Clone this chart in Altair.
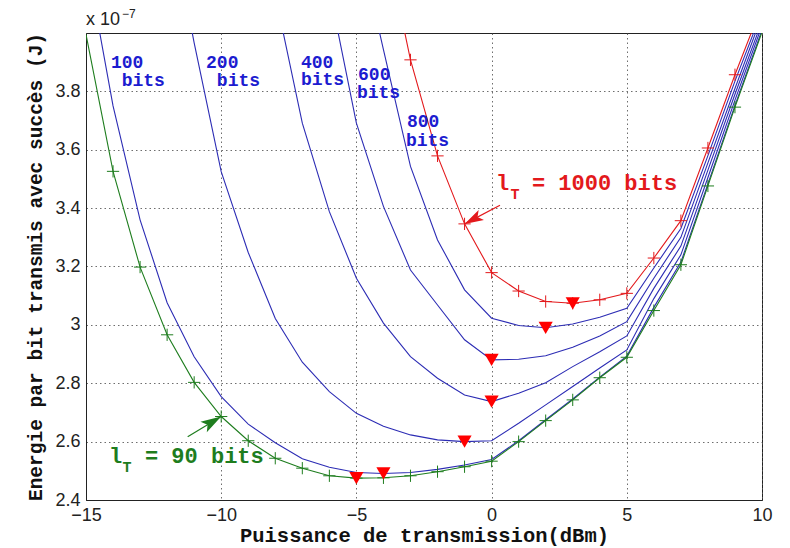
import altair as alt
import pandas as pd

# ---------------- data ----------------
x_dbm = list(range(-15, 11))

e_90 = [3.995, 3.526, 3.198, 2.966, 2.803, 2.686, 2.603, 2.543, 2.509, 2.483, 2.475, 2.476, 2.483,
        2.497, 2.514, 2.533, 2.600, 2.672, 2.743, 2.819, 2.889, 3.049, 3.206, 3.476, 3.746, 4.003]
e_100 = [4.26, 3.75, 3.36, 3.076, 2.891, 2.754, 2.660, 2.596, 2.541, 2.512, 2.494, 2.491, 2.494,
         2.505, 2.520, 2.539, 2.603, 2.675, 2.746, 2.821, 2.893, 3.060, 3.215, 3.483, 3.752, 4.010]
e_200 = [None, None, None, 4.45, 3.966, 3.525, 3.248, 3.022, 2.872, 2.771, 2.697, 2.653, 2.623,
         2.606, 2.600, 2.603, 2.663, 2.726, 2.789, 2.852, 2.914, 3.090, 3.240, 3.505, 3.770, 4.025]
e_400 = [None, None, None, None, None, None, None, 4.13, 3.691, 3.388, 3.160, 3.006, 2.891,
         2.817, 2.760, 2.737, 2.766, 2.802, 2.857, 2.908, 2.962, 3.125, 3.270, 3.530, 3.790, 4.040]
e_600 = [None, None, None, None, None, None, None, None, None, 4.15, 3.691, 3.406, 3.188,
         3.068, 2.949, 2.880, 2.882, 2.894, 2.923, 2.962, 3.011, 3.160, 3.300, 3.555, 3.810, 4.060]
e_800 = [None, None, None, None, None, None, None, None, None, None, 4.35, 3.943, 3.543,
         3.291, 3.120, 3.023, 2.998, 2.990, 3.003, 3.026, 3.057, 3.195, 3.330, 3.580, 3.835, 4.075]
e_1000 = [None, None, None, None, None, None, None, None, None, None, None, 4.35, 3.908,
          3.579, 3.346, 3.179, 3.116, 3.080, 3.074, 3.086, 3.108, 3.229, 3.357, 3.606, 3.857, 4.095]

series_names = ["100 bits", "200 bits", "400 bits", "600 bits", "800 bits", "1000 bits", "90 bits"]
series_values = [e_100, e_200, e_400, e_600, e_800, e_1000, e_90]
series_colors = ["#2c2cb4", "#2c2cb4", "#2c2cb4", "#2c2cb4", "#2c2cb4", "#e3191c", "#1e7d1e"]

plus_x_90 = list(range(-14, 10))
plus_x_1000 = list(range(-3, 10))

min_x = [-5, -4, -1, 0, 0, 2, 3]
min_e = [2.475, 2.491, 2.600, 2.737, 2.880, 2.990, 3.074]

x_ticks = [-15, -10, -5, 0, 5, 10]
y_ticks = [2.4, 2.6, 2.8, 3.0, 3.2, 3.4, 3.6, 3.8]

# annotations in monospace: text, x, y, colour, font size
ann_text = ["100", "bits", "200", "bits", "400", "bits", "600", "bits", "800", "bits",
            "l", "T", "= 1000 bits", "l", "T", "= 90 bits"]
ann_x = [-14.08, -13.68, -10.56, -10.16, -7.05, -7.05, -4.94, -4.98, -3.13, -3.17,
         0.16, 0.70, 1.49, -14.15, -13.65, -12.82]
ann_y = [3.880, 3.818, 3.880, 3.818, 3.880, 3.822, 3.839, 3.777, 3.678, 3.613,
         3.462, 3.431, 3.462, 2.527, 2.496, 2.527]
ann_color = ["#1c1cd0"] * 10 + ["#e3191c"] * 3 + ["#1e7d1e"] * 3
ann_size = [18] * 10 + [22, 15, 22, 22, 15, 22]

# exponent label (sans)
exp_text = ["x 10", "\u22127"]
exp_x = [-15.0, -13.67]
exp_y = [4.027, 4.052]
exp_size = [18, 12]

# arrows: start point, tip point, head angle, colour, head size
arrow_x = [0.31, -11.24]
arrow_y = [3.41, 2.617]
arrow_x2 = [-1, -10]
arrow_y2 = [3.346, 2.686]
arrow_angle = [242, 59]
arrow_color = ["#e3191c", "#1e7d1e"]
arrow_size = [360, 420]

# ---------------- tables ----------------
rows = []
for name, vals in zip(series_names, series_values):
    for x, v in zip(x_dbm, vals):
        if v is not None:
            rows.append({"x": x, "e": v, "serie": name})
lines_df = pd.DataFrame(rows)

plus_rows = []
for x in plus_x_90:
    plus_rows.append({"x": x, "e": e_90[x_dbm.index(x)], "serie": "90 bits"})
for x in plus_x_1000:
    plus_rows.append({"x": x, "e": e_1000[x_dbm.index(x)], "serie": "1000 bits"})
plus_df = pd.DataFrame(plus_rows)

min_df = pd.DataFrame({"x": min_x, "e": min_e})
ann_df = pd.DataFrame({"t": ann_text, "x": ann_x, "e": ann_y, "c": ann_color, "s": ann_size})
exp_df = pd.DataFrame({"t": exp_text, "x": exp_x, "e": exp_y, "s": exp_size})
arrow_df = pd.DataFrame({"x": arrow_x, "e": arrow_y, "x2": arrow_x2, "e2": arrow_y2,
                         "a": arrow_angle, "c": arrow_color, "s": arrow_size})

# ---------------- encodings ----------------
XS = alt.Scale(domain=[-15, 10], nice=False, zero=False)
YS = alt.Scale(domain=[2.4, 4.0], nice=False, zero=False)

X = alt.X("x:Q", scale=XS,
          axis=alt.Axis(values=x_ticks, title="Puissance de transmission(dBm)",
                        format="~g", labelFont="Liberation Sans", labelFontSize=18,
                        labelColor="#222", labelPadding=6, labelFlush=False,
                        titleFont="Liberation Mono", titleFontSize=20.5, titleFontWeight="bold",
                        titleColor="#111", titlePadding=1,
                        ticks=False, domainColor="#222",
                        grid=True, gridDash=[1.5, 3], gridColor="#555", gridOpacity=0.85))
Y = alt.Y("e:Q", scale=YS,
          axis=alt.Axis(values=y_ticks, title="Energie par bit transmis avec succès (J)",
                        format="~g", labelFont="Liberation Sans", labelFontSize=18,
                        labelColor="#222", labelPadding=6, labelFlush=False,
                        titleFont="Liberation Mono", titleFontSize=19.5, titleFontWeight="bold",
                        titleColor="#111", titlePadding=9,
                        ticks=False, domainColor="#222",
                        grid=True, gridDash=[1.5, 3], gridColor="#555", gridOpacity=0.85))

color_scale = alt.Scale(domain=series_names, range=series_colors)

lines = alt.Chart(lines_df).mark_line(clip=True, strokeWidth=1.1).encode(
    x=X, y=Y,
    color=alt.Color("serie:N", scale=color_scale, legend=None),
    detail="serie:N",
    order="x:Q",
)

plus_path = "M-1,0L1,0M0,-1L0,1"
plus = alt.Chart(plus_df).mark_point(shape=plus_path, size=150, filled=False,
                                     strokeWidth=1, opacity=1, clip=True).encode(
    x=X, y=Y,
    color=alt.Color("serie:N", scale=color_scale, legend=None),
)

mins = alt.Chart(min_df).mark_point(shape="triangle-down", filled=True, size=200,
                                    color="#ff0000", opacity=1).encode(x=X, y=Y)

shafts = alt.Chart(arrow_df).mark_rule(strokeWidth=1.2).encode(
    x=X, y=Y, x2="x2:Q", y2="e2:Q",
    color=alt.Color("c:N", scale=None),
)

head_path = "M0,0L0.6,2L0,1.55L-0.6,2Z"
heads = alt.Chart(arrow_df).mark_point(shape=head_path, filled=True, opacity=1).encode(
    x=alt.X("x2:Q", scale=XS),
    y=alt.Y("e2:Q", scale=YS),
    angle=alt.Angle("a:Q", scale=None),
    size=alt.Size("s:Q", scale=None, legend=None),
    color=alt.Color("c:N", scale=None),
)

texts = alt.Chart(ann_df).mark_text(align="left", baseline="alphabetic",
                                    font="Liberation Mono", fontWeight="bold",
                                    clip=False).encode(
    x=X, y=Y,
    text="t:N",
    color=alt.Color("c:N", scale=None),
    size=alt.Size("s:Q", scale=None, legend=None),
)

exp_texts = alt.Chart(exp_df).mark_text(align="left", baseline="alphabetic",
                                        font="Liberation Sans", color="#222",
                                        clip=False).encode(
    x=X, y=Y,
    text="t:N",
    size=alt.Size("s:Q", scale=None, legend=None),
)

chart = alt.layer(lines, plus, mins, shafts, heads, texts, exp_texts).properties(
    width=676, height=467,
    autosize=alt.AutoSizeParams(type="none"),
    padding={"left": 78, "top": 25, "right": 20, "bottom": 48},
    background="white",
).configure_view(stroke="#222", strokeWidth=1)

chart.save("out.html", embed_options={"renderer": "svg", "actions": False})
